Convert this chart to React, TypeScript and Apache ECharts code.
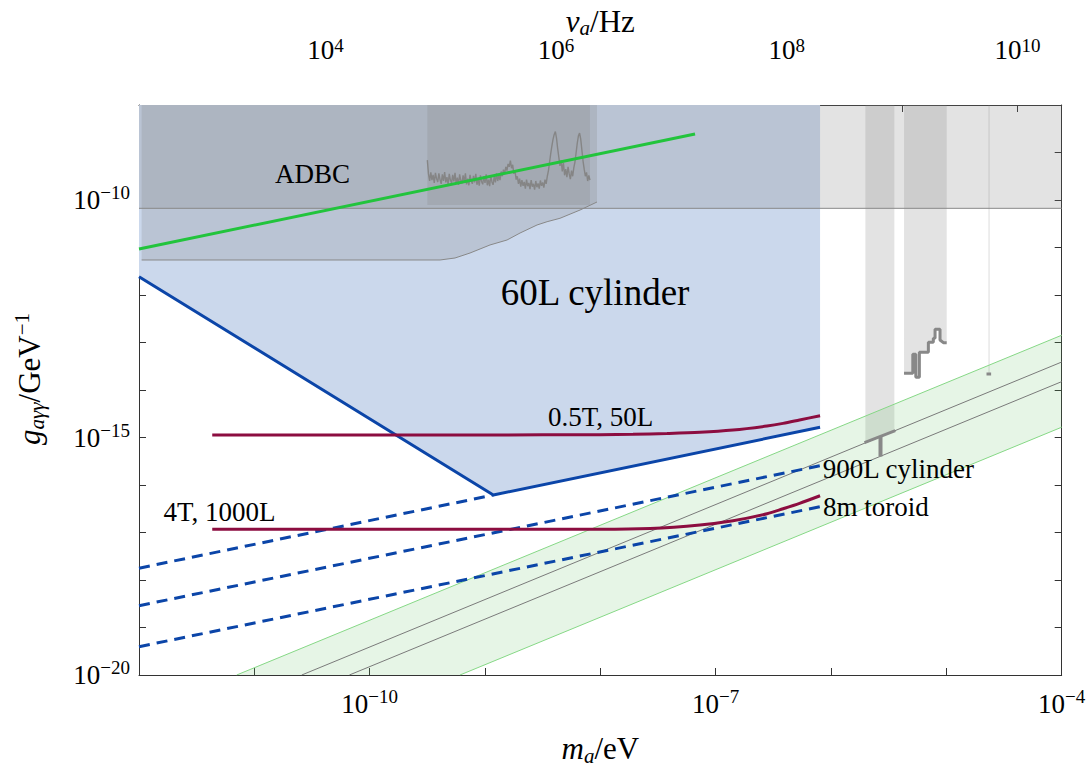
import React, { useEffect, useRef } from "react";
import * as echarts from "echarts";

const FONT = "'Liberation Serif', 'Times New Roman', serif";
const LOG_NU_PER_EV = 14.3835; // log10(1/h) in Hz per eV

// axes (log10 units)
const mLogMin = -12;
const mLogMax = -4;
const gLogMin = -20;
const gLogMax = -8;
const mTickLabels = [-10, -7, -4];
const gTickLabels = [-20, -15, -10];
const nuTicks = [3, 4, 5, 6, 7, 8, 9, 10];
const nuTickLabels = [4, 6, 8, 10];

// data: [log10(m_a/eV), log10(g/GeV^-1)]
const cylinder60LEdge = [[-12, -11.614], [-8.928, -16.211], [-6.095, -14.785]];
const castLimit = -10.175;
const adbcEdge = [
  [-11.977, -11.263], [-9.39, -11.263], [-9.26, -11.221], [-9.13, -11.116], [-8.957, -10.947],
  [-8.809, -10.842], [-8.696, -10.695], [-8.549, -10.526], [-8.462, -10.457], [-8.35, -10.385],
  [-8.176, -10.211], [-8.029, -10.042],
];
const noiseRegionM = [-9.5, -8.09];
const noiseRegionBottom = -10.105;
const noiseCurve = [
  [-9.5, -9.16], [-9.49, -9.45], [-9.48, -9.6], [-9.47, -9.42], [-9.46, -9.58], [-9.45, -9.47],
  [-9.44, -9.64], [-9.43, -9.43], [-9.42, -9.55], [-9.41, -9.62], [-9.4, -9.44], [-9.39, -9.57],
  [-9.38, -9.66], [-9.37, -9.46], [-9.36, -9.6], [-9.35, -9.41], [-9.34, -9.63], [-9.33, -9.52],
  [-9.32, -9.67], [-9.31, -9.45], [-9.3, -9.58], [-9.29, -9.64], [-9.28, -9.47], [-9.27, -9.61],
  [-9.26, -9.43], [-9.25, -9.66], [-9.24, -9.53], [-9.23, -9.68], [-9.22, -9.46], [-9.21, -9.59],
  [-9.2, -9.65], [-9.19, -9.48], [-9.18, -9.62], [-9.17, -9.44], [-9.16, -9.67], [-9.15, -9.55],
  [-9.14, -9.69], [-9.13, -9.47], [-9.12, -9.6], [-9.11, -9.66], [-9.1, -9.49], [-9.09, -9.63],
  [-9.08, -9.45], [-9.07, -9.68], [-9.06, -9.56], [-9.05, -9.7], [-9.04, -9.48], [-9.03, -9.61],
  [-9.02, -9.67], [-9.01, -9.5], [-9.0, -9.64], [-8.99, -9.46], [-8.98, -9.69], [-8.97, -9.57],
  [-8.96, -9.71], [-8.95, -9.49], [-8.94, -9.62], [-8.93, -9.68], [-8.92, -9.5], [-8.91, -9.63],
  [-8.9, -9.44], [-8.89, -9.6], [-8.88, -9.48], [-8.87, -9.58], [-8.86, -9.4], [-8.85, -9.5],
  [-8.84, -9.36], [-8.83, -9.45], [-8.82, -9.3], [-8.81, -9.38], [-8.8, -9.24], [-8.79, -9.3],
  [-8.78, -9.17], [-8.77, -9.33], [-8.76, -9.26], [-8.75, -9.45], [-8.74, -9.38], [-8.73, -9.57],
  [-8.72, -9.5], [-8.71, -9.66], [-8.7, -9.55], [-8.69, -9.72], [-8.68, -9.58], [-8.67, -9.7],
  [-8.66, -9.62], [-8.65, -9.76], [-8.64, -9.57], [-8.63, -9.71], [-8.62, -9.64], [-8.61, -9.77],
  [-8.6, -9.58], [-8.59, -9.72], [-8.58, -9.66], [-8.57, -9.78], [-8.56, -9.6], [-8.55, -9.73],
  [-8.54, -9.65], [-8.53, -9.76], [-8.52, -9.59], [-8.51, -9.7], [-8.5, -9.63], [-8.49, -9.74],
  [-8.48, -9.57], [-8.47, -9.66], [-8.46, -9.5], [-8.45, -9.38], [-8.44, -9.2], [-8.43, -9.02],
  [-8.42, -8.86], [-8.41, -8.72], [-8.4, -8.62], [-8.39, -8.56], [-8.38, -8.7], [-8.37, -8.92],
  [-8.36, -9.1], [-8.35, -9.28], [-8.34, -9.16], [-8.33, -9.4], [-8.32, -9.22], [-8.31, -9.48],
  [-8.3, -9.35], [-8.29, -9.52], [-8.28, -9.3], [-8.27, -9.45], [-8.26, -9.56], [-8.25, -9.38],
  [-8.24, -9.5], [-8.23, -9.32], [-8.22, -9.2], [-8.21, -9.0], [-8.2, -8.8], [-8.19, -8.65],
  [-8.18, -8.59], [-8.17, -8.72], [-8.16, -8.95], [-8.15, -9.18], [-8.14, -9.35], [-8.13, -9.5],
  [-8.12, -9.42], [-8.11, -9.6], [-8.1, -9.48], [-8.09, -9.58],
];
const band1M = [-5.702, -5.451];
const band1Bottom = [-15.109, -14.857];
const band1Stem = [[-5.571, -14.98], [-5.571, -15.4]];
const band2Step = [
  [-5.367, -13.648], [-5.291, -13.648], [-5.291, -13.248], [-5.265, -13.248], [-5.265, -13.733],
  [-5.234, -13.733], [-5.234, -13.206], [-5.156, -13.206], [-5.156, -12.996], [-5.113, -12.996],
  [-5.113, -12.912], [-5.098, -12.912], [-5.098, -12.722], [-5.055, -12.722], [-5.055, -12.947],
  [-5.026, -13.004], [-4.997, -13.004],
];
const band3M = [-4.636, -4.624];
const band3Bottom = -13.663;
const band3Dot = [[-4.652, -13.663], [-4.612, -13.663]];
const qcdUpper = [[-11.153, -20], [-4, -12.847]];
const qcdKSVZ = [[-10.589, -20], [-4, -13.411]];
const qcdDFSZ = [[-10.176, -20], [-4, -13.824]];
const qcdLower = [[-9.217, -20], [-4, -14.783]];
const greenLine = [[-12, -11.032], [-7.179, -8.611]];
const dashed60L = [[-12, -17.751], [-8.928, -16.211]];
const dashed900L = [[-12, -18.541], [-6.095, -15.594]];
const dashedToroid = [[-12, -19.404], [-6.095, -16.457]];
const red05T = [
  [-11.365, -14.947], [-10.0, -14.947], [-9.0, -14.946], [-8.003, -14.941], [-7.717, -14.932],
  [-7.422, -14.915], [-7.136, -14.89], [-6.85, -14.842], [-6.555, -14.758], [-6.416, -14.703],
  [-6.273, -14.631], [-6.095, -14.541],
];
const red4T = [
  [-11.365, -16.933], [-10.0, -16.933], [-9.0, -16.933], [-8.003, -16.933], [-7.569, -16.916],
  [-7.136, -16.842], [-6.85, -16.754], [-6.555, -16.607], [-6.416, -16.501], [-6.273, -16.386],
  [-6.095, -16.226],
];
const textLabels = [
  { text: "ADBC", pos: [-10.496, -9.453], size: 27, align: "center" },
  { text: "60L cylinder", pos: [-8.046, -11.937], size: 37, align: "center" },
  { text: "0.5T, 50L", pos: [-7.998, -14.558], size: 27, align: "center" },
  { text: "4T, 1000L", pos: [-11.302, -16.568], size: 27, align: "center" },
  { text: "900L cylinder", pos: [-6.072, -15.663], size: 27, align: "left" },
  { text: "8m toroid", pos: [-6.069, -16.463], size: 27, align: "left" },
];

const BLUE_FILL = "#cbd8ec";
const GRAY_FILL = "rgba(128,128,128,0.22)";
const GRAY_LINE = "#888888";
const BLUE = "#0b45a8";
const RED = "#8c0d40";
const GREEN = "#22c43c";
const AXIS = "#333333";

function polygon(points: number[][], fill: string, z: number) {
  return {
    type: "custom",
    coordinateSystem: "cartesian2d",
    xAxisIndex: 0,
    yAxisIndex: 0,
    silent: true,
    clip: true,
    z,
    data: [points[0]],
    renderItem: (_params: any, api: any) => ({
      type: "polygon",
      shape: { points: points.map((p) => api.coord(p)) },
      style: { fill, stroke: "none", lineWidth: 0 },
    }),
  };
}

function line(data: number[][], color: string, width: number, z: number, extra: any = {}) {
  return {
    type: "line",
    xAxisIndex: 0,
    yAxisIndex: 0,
    data,
    symbol: "none",
    showSymbol: false,
    silent: true,
    z,
    lineStyle: { color, width, ...(extra.lineStyle || {}) },
    smooth: extra.smooth || false,
  };
}

const tickRich = {
  b: { fontFamily: FONT, fontSize: 27, lineHeight: 34, color: "#000" },
  s: { fontFamily: FONT, fontSize: 19, lineHeight: 19, verticalAlign: "top", color: "#000" },
};
const tickRichTop = {
  b: { fontFamily: FONT, fontSize: 27, lineHeight: 28, color: "#000" },
  s: { fontFamily: FONT, fontSize: 19, lineHeight: 14, verticalAlign: "top", color: "#000" },
};

const nameRich = {
  i: { fontFamily: FONT, fontSize: 31, fontStyle: "italic", lineHeight: 36, color: "#000" },
  sub: { fontFamily: FONT, fontSize: 21, fontStyle: "italic", lineHeight: 15, verticalAlign: "bottom", color: "#000" },
  n: { fontFamily: FONT, fontSize: 31, lineHeight: 36, color: "#000" },
  sup: { fontFamily: FONT, fontSize: 21, lineHeight: 17, verticalAlign: "top", color: "#000" },
};
const nameRichTop = {
  i: { fontFamily: FONT, fontSize: 31, fontStyle: "italic", lineHeight: 34, color: "#000" },
  sub: { fontFamily: FONT, fontSize: 21, fontStyle: "italic", lineHeight: 15, verticalAlign: "bottom", color: "#000" },
  n: { fontFamily: FONT, fontSize: 31, lineHeight: 34, color: "#000" },
};

export default function App() {
  const ref = useRef<HTMLDivElement>(null);
  useEffect(() => {
    document.body.style.margin = "0";
    const chart = echarts.init(ref.current!, null, { renderer: "svg" });

    const adbcRegion = [[adbcEdge[0][0], gLogMax], ...adbcEdge, [adbcEdge[adbcEdge.length - 1][0], gLogMax]];
    const cylRegion = [[mLogMin, gLogMax], ...cylinder60LEdge, [cylinder60LEdge[2][0], gLogMax]];
    const castRegion = [[mLogMin, gLogMax], [mLogMax, gLogMax], [mLogMax, castLimit], [mLogMin, castLimit]];
    const noiseRegion = [
      [noiseRegionM[0], gLogMax], [noiseRegionM[1], gLogMax],
      [noiseRegionM[1], noiseRegionBottom], [noiseRegionM[0], noiseRegionBottom],
    ];
    const band1Region = [
      [band1M[0], gLogMax], [band1M[1], gLogMax], [band1M[1], band1Bottom[1]], [band1M[0], band1Bottom[0]],
    ];
    const band1Bar = [[band1M[0] - 0.008, band1Bottom[0]], [band1M[1] + 0.008, band1Bottom[1]]];
    const band2Region = [[band2Step[0][0], gLogMax], ...band2Step, [band2Step[band2Step.length - 1][0], gLogMax]];
    const band3Region = [[band3M[0], gLogMax], [band3M[1], gLogMax], [band3M[1], band3Bottom], [band3M[0], band3Bottom]];
    const qcdRegion = [...qcdUpper, qcdLower[1], qcdLower[0]];

    const option: any = {
      animation: false,
      textStyle: { fontFamily: FONT },
      grid: { left: 139, top: 105, right: 30.3, bottom: 93, containLabel: false, outerBoundsMode: "none" },
      xAxis: [
        {
          type: "value",
          position: "bottom",
          min: mLogMin,
          max: mLogMax,
          interval: 1,
          axisLine: { show: true, lineStyle: { color: AXIS, width: 1 } },
          axisTick: { show: true, inside: true, length: 7, lineStyle: { color: AXIS } },
          splitLine: { show: false },
          axisLabel: {
            margin: 12,
            fontFamily: FONT,
            showMinLabel: true,
            showMaxLabel: true,
            formatter: (v: number) => (mTickLabels.includes(v) ? `{b|10}{s|\u2212${-v}}` : ""),
            rich: tickRich,
          },
          name: "{i|m}{sub|a}{n|/eV}",
          nameLocation: "middle",
          nameGap: 55,
          nameMoveOverlap: false,
          nameTextStyle: { fontFamily: FONT, rich: nameRich },
        },
        {
          type: "value",
          position: "top",
          min: mLogMin + LOG_NU_PER_EV,
          max: mLogMax + LOG_NU_PER_EV,
          axisLine: { show: true, lineStyle: { color: AXIS, width: 1 } },
          axisTick: { show: true, inside: true, length: 7, lineStyle: { color: AXIS }, customValues: nuTicks },
          splitLine: { show: false },
          axisLabel: {
            margin: 41,
            fontFamily: FONT,
            customValues: nuTickLabels,
            formatter: (v: number) => `{b|10}{s|${v}}`,
            rich: tickRichTop,
          },
          name: "{i|\u03bd}{sub|a}{n|/Hz}",
          nameLocation: "middle",
          nameGap: 67,
          nameMoveOverlap: false,
          nameTextStyle: { fontFamily: FONT, rich: nameRichTop },
        },
      ],
      yAxis: [
        {
          type: "value",
          position: "left",
          min: gLogMin,
          max: gLogMax,
          interval: 1,
          axisLine: { show: true, lineStyle: { color: AXIS, width: 1 } },
          axisTick: { show: true, inside: true, length: 7, lineStyle: { color: AXIS } },
          splitLine: { show: false },
          axisLabel: {
            margin: 9,
            fontFamily: FONT,
            showMinLabel: true,
            showMaxLabel: true,
            formatter: (v: number) => (gTickLabels.includes(v) ? `{b|10}{s|\u2212${-v}}` : ""),
            rich: tickRich,
          },
          name: "{i|g}{sub|a\u03b3\u03b3}{n|/GeV}{sup|\u22121}",
          nameLocation: "middle",
          nameRotate: 90,
          nameGap: 92,
          nameMoveOverlap: false,
          nameTextStyle: { fontFamily: FONT, rich: nameRich, padding: [0, 0, 0, 22] },
        },
        {
          type: "value",
          position: "right",
          min: gLogMin,
          max: gLogMax,
          interval: 1,
          axisLine: { show: true, lineStyle: { color: AXIS, width: 1 } },
          axisTick: { show: true, inside: true, length: 7, lineStyle: { color: AXIS } },
          splitLine: { show: false },
          axisLabel: { show: false },
        },
      ],
      series: [
        polygon(cylRegion, BLUE_FILL, 1),
        polygon(castRegion, GRAY_FILL, 2),
        polygon(adbcRegion, GRAY_FILL, 2),
        polygon(noiseRegion, GRAY_FILL, 2),
        polygon(band1Region, GRAY_FILL, 2),
        polygon(band2Region, GRAY_FILL, 2),
        polygon(band3Region, "rgba(128,128,128,0.2)", 2),
        polygon(qcdRegion, "rgba(100,190,100,0.16)", 3),
        line([[mLogMin, castLimit], [mLogMax, castLimit]], GRAY_LINE, 1, 4),
        line(adbcEdge, GRAY_LINE, 1, 4),
        line(qcdUpper, "#86d886", 1, 4),
        line(qcdLower, "#86d886", 1, 4),
        line(qcdKSVZ, "#7a7a7a", 1, 4),
        line(qcdDFSZ, "#7a7a7a", 1, 4),
        line(band1Bar, GRAY_LINE, 3, 5),
        line(band1Stem, GRAY_LINE, 4, 5),
        line(band2Step, GRAY_LINE, 3, 5),
        line(band3Dot, GRAY_LINE, 3, 5),
        line(noiseCurve, "#858585", 1.4, 5),
        line(cylinder60LEdge, BLUE, 3, 6),
        line(dashed60L, BLUE, 3, 6, { lineStyle: { type: [11, 7] } }),
        line(dashed900L, BLUE, 3, 6, { lineStyle: { type: [11, 7] } }),
        line(dashedToroid, BLUE, 3, 6, { lineStyle: { type: [11, 7] } }),
        line(red05T, RED, 3, 7, { smooth: 0.3 }),
        line(red4T, RED, 3, 7, { smooth: 0.3 }),
        line(greenLine, GREEN, 3, 8),
      ],
    };
    chart.setOption(option);

    const graphics = textLabels.map((l) => {
      const [x, y] = chart.convertToPixel({ xAxisIndex: 0, yAxisIndex: 0 }, l.pos) as number[];
      return {
        type: "text",
        x,
        y,
        z: 100,
        silent: true,
        style: {
          text: l.text,
          fontFamily: FONT,
          fontSize: l.size,
          fill: "#000",
          align: l.align,
          verticalAlign: "middle",
          textAlign: l.align,
          textVerticalAlign: "middle",
        },
      };
    });
    chart.setOption({ graphic: graphics });

    return () => chart.dispose();
  }, []);
  return <div ref={ref} style={{ width: 1092, height: 768 }} />;
}
